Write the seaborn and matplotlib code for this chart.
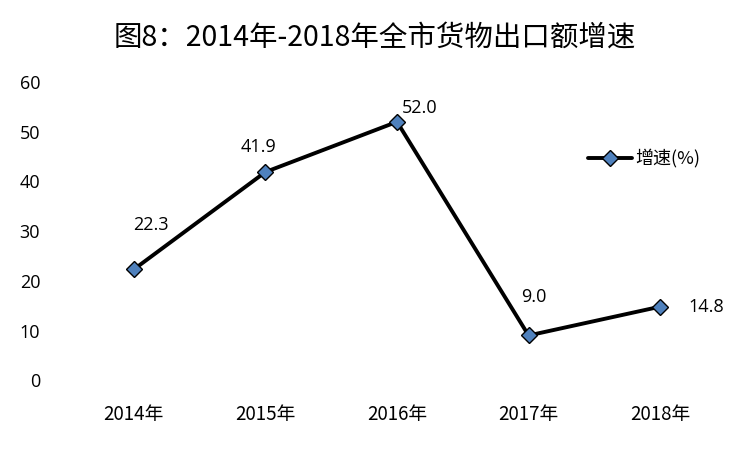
"""Line chart: 2014-2018 export growth rate."""

import matplotlib
matplotlib.use("Agg")
import matplotlib.pyplot as plt
import seaborn as sns
import pandas as pd

years = ["2014年", "2015年", "2016年", "2017年", "2018年"]
growth = [22.3, 41.9, 52.0, 9.0, 14.8]
yticks = [0, 10, 20, 30, 40, 50, 60]
title = "图8：2014年-2018年全市货物出口额增速"
series_name = "增速(%)"

# label offsets in points (dx, dy), one per point
label_offsets = [(12, 32), (-5, 18), (16, 10), (4, 28), (33, 0)]

sns.set_theme(style="white")
plt.rcParams["font.family"] = ["Noto Sans CJK SC", "DejaVu Sans"]
plt.rcParams["text.color"] = "black"
plt.rcParams["xtick.color"] = "black"
plt.rcParams["ytick.color"] = "black"

df = pd.DataFrame({"year": years, "growth": growth})

fig = plt.figure(figsize=(7.5, 4.51), dpi=100)
ax = fig.add_axes([0.0907, 0.157, 0.8773, 0.661])

sns.lineplot(
    data=df, x="year", y="growth", ax=ax, color="black", linewidth=2.8,
    marker="D", markersize=8.5, markerfacecolor="#4F81BD",
    markeredgecolor="black", markeredgewidth=1.0, label=series_name,
    sort=False,
)

for i, (v, (dx, dy)) in enumerate(zip(growth, label_offsets)):
    ax.annotate(f"{v:.1f}", (i, v), xytext=(dx, dy), textcoords="offset points",
                ha="center", va="center", fontsize=13, family="Open Sans")

ax.set_xlim(-0.5, len(years) - 0.5)
ax.set_ylim(0, 60)
ax.set_yticks(yticks)
ax.set_yticklabels([str(t) for t in yticks], family="Open Sans", fontsize=13)
for lbl in ax.get_xticklabels():
    lbl.set_fontsize(13.5)
ax.tick_params(axis="y", pad=14)
ax.tick_params(axis="x", pad=11)
ax.set_xlabel("")
ax.set_ylabel("")
for s in ax.spines.values():
    s.set_visible(False)

leg = ax.legend(loc="upper left", bbox_to_anchor=(0.78, 0.80), frameon=False,
                fontsize=13, handlelength=2.4, handletextpad=0.2,
                borderaxespad=0)

fig.suptitle(title, y=0.95, fontsize=20.5)
fig.savefig("out.png", dpi=100)
plt.close(fig)
